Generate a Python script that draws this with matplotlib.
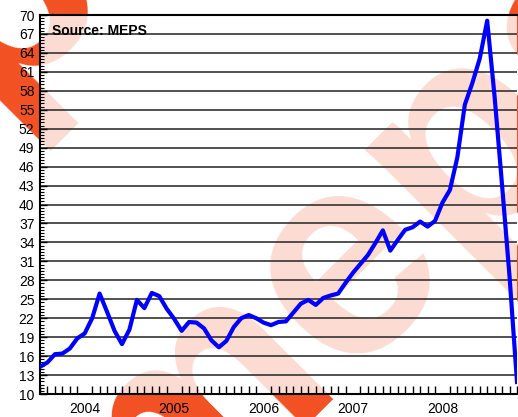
import numpy as np
import matplotlib
matplotlib.use('Agg')
import matplotlib.pyplot as plt
from matplotlib.ticker import MultipleLocator, FixedLocator

# monthly index, Jan 2004 .. May 2009
values = [14.3, 15.0, 16.3, 16.4, 17.2, 18.8, 19.6, 22.0, 25.9, 23.0,
          20.0, 17.9, 20.2, 24.9, 23.6, 26.0, 25.5, 23.5, 21.9, 20.0,
          21.4, 21.3, 20.4, 18.5, 17.4, 18.4, 20.6, 22.0, 22.5, 22.0,
          21.3, 20.9, 21.4, 21.5, 22.9, 24.3, 24.9, 24.1, 25.2, 25.6,
          25.9, 27.6, 29.2, 30.6, 32.0, 33.9, 35.9, 32.7, 34.4, 36.0,
          36.4, 37.3, 36.5, 37.4, 40.3, 42.3, 47.5, 55.8, 59.2, 63.1,
          69.1, 57.0, 43.0, 28.6, 11.9]
years = ["2004", "2005", "2006", "2007", "2008"]
y_ticks = list(range(10, 71, 3))

plt.rcParams['font.family'] = ['Liberation Sans', 'DejaVu Sans']

fig = plt.figure(figsize=(5.18, 4.17), dpi=100)

# watermark, drawn under the (semi transparent) axes background
for cx, cy in [(0.72, 0.44), (-0.18, 0.80)]:
    fig.text(cx, cy, "meps", rotation=45, fontsize=210, fontweight='bold',
             color='#F25022', ha='center', va='center', zorder=-1)

ax = fig.add_axes([40 / 518, 23 / 417, 477 / 518, 379 / 417])
ax.patch.set_facecolor((1, 1, 1, 0.8))

months = np.arange(len(values))
ax.plot(months, values, color='#0000FF', linewidth=3, zorder=3)

ax.set_xlim(0, 64)
ax.set_ylim(10, 70)

ax.set_yticks(y_ticks)
ax.yaxis.set_minor_locator(MultipleLocator(0.5))
ax.grid(axis='y', color='#333333', linewidth=1.2)
ax.tick_params(axis='y', which='major', direction='in', length=5, width=1, labelsize=10, pad=4)
ax.tick_params(axis='y', which='minor', direction='in', length=3, width=0.8)

ax.set_xticks([6 + 12 * k for k in range(len(years))])
ax.set_xticklabels(years)
ax.xaxis.set_minor_locator(FixedLocator(np.arange(0, 65)))
ax.tick_params(axis='x', which='major', length=0, labelsize=10, pad=6)
ax.tick_params(axis='x', which='minor', direction='in', length=6, width=1)

ax.spines['right'].set_visible(False)
for s in ['left', 'top', 'bottom']:
    ax.spines[s].set_linewidth(1.5)

ax.text(0.025, 0.975, "Source: MEPS", transform=ax.transAxes, fontsize=10,
        fontweight='bold', va='top', ha='left')

fig.savefig("out.png", dpi=100)
